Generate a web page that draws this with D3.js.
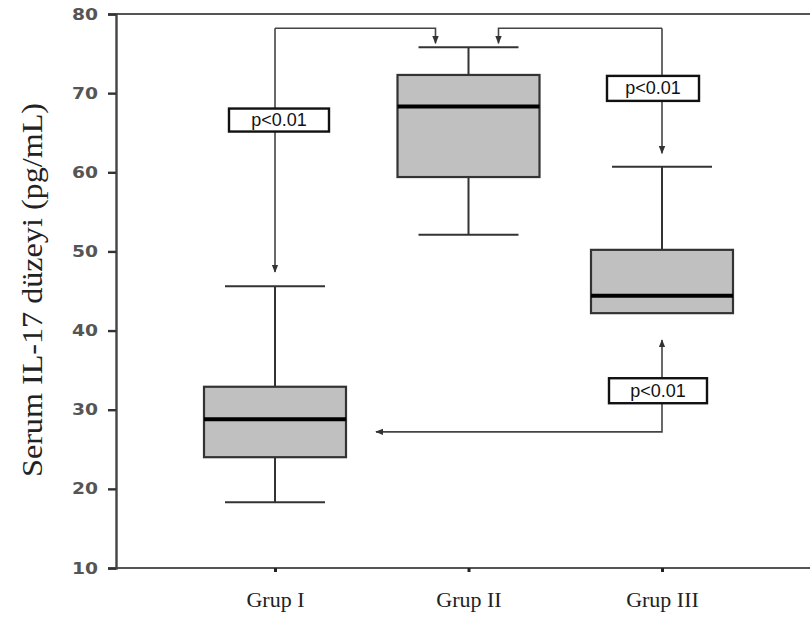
<!DOCTYPE html>
<html><head><meta charset="utf-8">
<script src="https://cdn.jsdelivr.net/npm/d3@7"></script>
<style>body{margin:0;background:#fff}</style>
</head><body>
<svg id="c" width="810" height="619"></svg>
<script>
const groups = ["Grup I", "Grup II", "Grup III"];
const whiskerHigh = [45.6, 75.8, 60.7];
const q3 = [32.9, 72.3, 50.2];
const median = [28.8, 68.3, 44.4];
const q1 = [24.0, 59.4, 42.2];
const whiskerLow = [18.3, 52.1, 42.2];
const yTicks = [10, 20, 30, 40, 50, 60, 70, 80];
const pLabel = "p<0.01";
// comparison annotations (values in data units)
const bracketY = 78.2, bracketTip = 76.3;
const tipI = 47.4, tipIII = 62.4;
const lowLineY = 27.2, lowTipUp = 38.8;
const labelYs = [66.6, 70.6, 32.4];

const svg = d3.select("#c");
const pLeft = 116, pRight = 810, pTop = 14, pBottom = 568;
const y = d3.scaleLinear().domain([10, 80]).range([pBottom, pTop]);
const x = d3.scalePoint().domain(groups).range([275, 662]);
const boxW = 142, capW = 100;

// frame lines
svg.append("line").attr("x1", pLeft).attr("x2", pRight).attr("y1", pTop).attr("y2", pTop)
  .attr("stroke", "#555").attr("stroke-width", 2.2);
svg.append("line").attr("x1", pLeft).attr("x2", pRight).attr("y1", pBottom).attr("y2", pBottom)
  .attr("stroke", "#555").attr("stroke-width", 2.2);

// y axis
const ya = svg.append("g").attr("transform", `translate(${pLeft},0)`)
  .call(d3.axisLeft(y).tickValues(yTicks).tickSize(8).tickPadding(10).tickFormat(d3.format("d")));
ya.select(".domain").attr("stroke", "#444").attr("stroke-width", 2.4);
ya.selectAll(".tick line").attr("stroke", "#333").attr("stroke-width", 2.4);
ya.selectAll(".tick text").attr("font-family", "DejaVu Sans, Verdana, sans-serif")
  .attr("font-weight", "bold").attr("font-size", 16).attr("fill", "#555")
  .attr("textLength", 26).attr("lengthAdjust", "spacingAndGlyphs");

// x axis ticks and labels
const xa = svg.append("g").attr("transform", `translate(0,${pBottom})`)
  .call(d3.axisBottom(x).tickSize(4).tickPadding(19));
xa.select(".domain").remove();
xa.selectAll(".tick line").attr("stroke", "#222").attr("stroke-width", 3);
xa.selectAll(".tick text").attr("font-family", "Liberation Serif, Times New Roman, serif")
  .attr("font-size", 22).attr("fill", "#222");

// y title
svg.append("text").attr("transform", `translate(42,290) rotate(-90)`)
  .attr("text-anchor", "middle").attr("font-family", "Liberation Serif, Times New Roman, serif")
  .attr("font-size", 29).attr("fill", "#222")
  .attr("textLength", 374).attr("lengthAdjust", "spacingAndGlyphs")
  .text("Serum IL-17 düzeyi (pg/mL)");

// boxes
const data = groups.map((g, i) => ({g, hi: whiskerHigh[i], q3: q3[i], med: median[i], q1: q1[i], lo: whiskerLow[i]}));
const bg = svg.append("g");
data.forEach(d => {
  const cx = x(d.g);
  bg.append("line").attr("x1", cx).attr("x2", cx).attr("y1", y(d.hi)).attr("y2", y(d.q3))
    .attr("stroke", "#333").attr("stroke-width", 2);
  bg.append("line").attr("x1", cx - capW / 2).attr("x2", cx + capW / 2).attr("y1", y(d.hi)).attr("y2", y(d.hi))
    .attr("stroke", "#333").attr("stroke-width", 2);
  if (d.lo < d.q1) {
    bg.append("line").attr("x1", cx).attr("x2", cx).attr("y1", y(d.q1)).attr("y2", y(d.lo))
      .attr("stroke", "#333").attr("stroke-width", 2);
    bg.append("line").attr("x1", cx - capW / 2).attr("x2", cx + capW / 2).attr("y1", y(d.lo)).attr("y2", y(d.lo))
      .attr("stroke", "#333").attr("stroke-width", 2);
  }
  bg.append("rect").attr("x", cx - boxW / 2).attr("width", boxW).attr("y", y(d.q3)).attr("height", y(d.q1) - y(d.q3))
    .attr("fill", "#c0c0c0").attr("stroke", "#333").attr("stroke-width", 2.2);
  bg.append("line").attr("x1", cx - boxW / 2).attr("x2", cx + boxW / 2).attr("y1", y(d.med)).attr("y2", y(d.med))
    .attr("stroke", "#000").attr("stroke-width", 4);
});

// arrows
const defs = svg.append("defs");
defs.append("marker").attr("id", "ah").attr("viewBox", "0 0 10 10").attr("refX", 9).attr("refY", 5)
  .attr("markerWidth", 8).attr("markerHeight", 8).attr("markerUnits", "userSpaceOnUse").attr("orient", "auto")
  .append("path").attr("d", "M0,1 L10,5 L0,9 Z").attr("fill", "#333");
const ag = svg.append("g").attr("fill", "none").attr("stroke", "#444").attr("stroke-width", 1.6);
const xI = x(groups[0]), xII = x(groups[1]), xIII = x(groups[2]);
const line = d3.line();
// Grup I -> Grup II
ag.append("path").attr("d", line([[xI, y(bracketY)], [xI, y(tipI)]])).attr("marker-end", "url(#ah)");
ag.append("path").attr("d", line([[xI, y(bracketY)], [xII - 33, y(bracketY)], [xII - 33, y(bracketTip)]])).attr("marker-end", "url(#ah)");
// Grup III -> Grup II
ag.append("path").attr("d", line([[xIII, y(bracketY)], [xII + 30, y(bracketY)], [xII + 30, y(bracketTip)]])).attr("marker-end", "url(#ah)");
ag.append("path").attr("d", line([[xIII, y(bracketY)], [xIII, y(tipIII)]])).attr("marker-end", "url(#ah)");
// Grup III -> Grup I
ag.append("path").attr("d", line([[xIII, y(labelYs[2])], [xIII, y(lowLineY)], [xI + 101, y(lowLineY)]])).attr("marker-end", "url(#ah)");
ag.append("path").attr("d", line([[xIII, y(labelYs[2])], [xIII, y(lowTipUp)]])).attr("marker-end", "url(#ah)");

// p labels
const labels = [{cx: xI + 4, cy: y(labelYs[0]), w: 100, h: 23}, {cx: xIII - 9, cy: y(labelYs[1]), w: 92, h: 25}, {cx: xIII - 4, cy: y(labelYs[2]), w: 98, h: 25}];
labels.forEach(l => {
  svg.append("rect").attr("x", l.cx - l.w / 2).attr("y", l.cy - l.h / 2).attr("width", l.w).attr("height", l.h)
    .attr("fill", "#fff").attr("stroke", "#111").attr("stroke-width", 2.4);
  svg.append("text").attr("x", l.cx).attr("y", l.cy + 6).attr("text-anchor", "middle")
    .attr("font-family", "Liberation Sans, Arial, sans-serif").attr("font-size", 18).attr("fill", "#111").text(pLabel);
});
</script>
</body></html>
